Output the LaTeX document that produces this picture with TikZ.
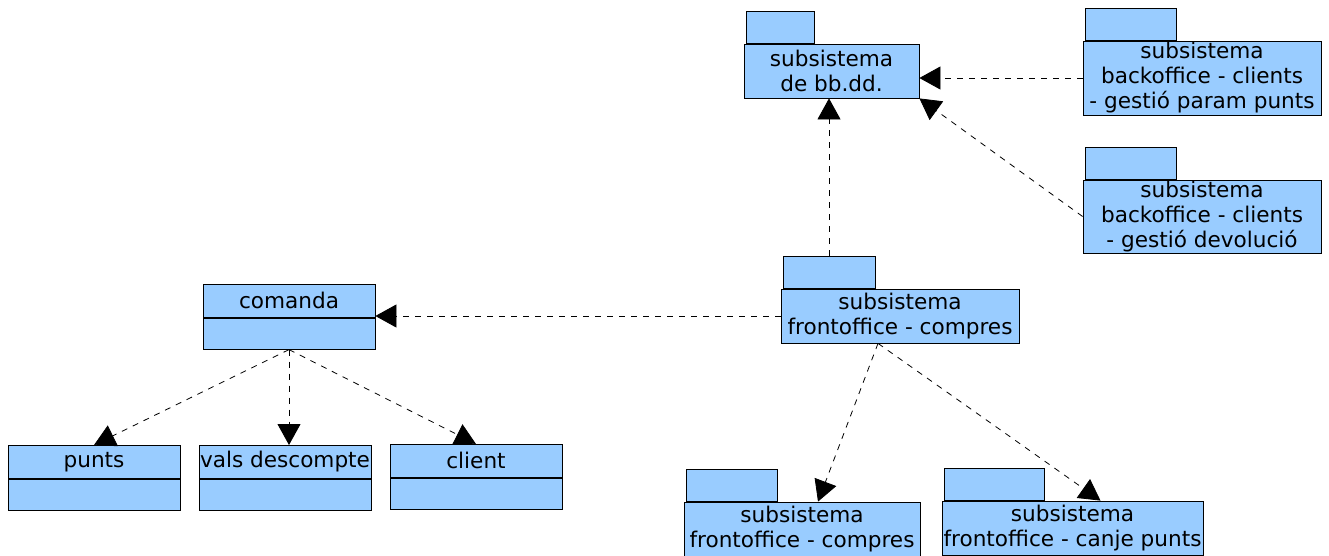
\documentclass[tikz,border=0pt]{standalone}
\usepackage{fontspec}
\setmainfont{DejaVu Sans}
\usetikzlibrary{arrows.meta}
\definecolor{pkgblue}{HTML}{99CCFF}

\begin{document}
\begin{tikzpicture}[x=1pt,y=-1pt,
    box/.style={draw, fill=pkgblue, line width=0.8pt, inner sep=0pt, align=center,
      font=\fontsize{21.6}{25}\selectfont},
    tab/.style={draw, fill=pkgblue, line width=0.8pt, inner sep=0pt, minimum height=32, anchor=south west},
    dep/.style={dash pattern=on 6pt off 6pt, line width=0.8pt, -{Triangle[length=21pt,width=23pt]}}]
  \useasboundingbox (0,0) rectangle (1329,555);

  % packages
  \node[box, minimum width=175, minimum height=54] (bbdd) at (831.5,71) {subsistema\\de bb.dd.};
  \node[box, minimum width=238, minimum height=74] (bo1) at (1202,78) {subsistema\\backoffice - clients\\- gesti\'o param punts};
  \node[box, minimum width=238, minimum height=73] (bo2) at (1202,216.5) {subsistema\\backoffice - clients\\- gesti\'o devoluci\'o};
  \node[box, minimum width=238, minimum height=54] (fo) at (900,316) {subsistema\\frontoffice - compres};
  \node[box, minimum width=236, minimum height=54] (fob1) at (802,529) {subsistema\\frontoffice - compres};
  \node[box, minimum width=261, minimum height=54] (fob2) at (1072.5,528) {subsistema\\frontoffice - canje punts};
  \foreach \n/\w in {bbdd/68, bo1/91, bo2/91, fo/92, fob1/91, fob2/100}
    \node[tab, minimum width=\w] (\n tab) at ([xshift=2]\n.north west) {};

  % classes
  \foreach \n/\t/\x/\y in {comanda/comanda/289/284, punts/punts/94/445,
      vals/vals descompte/285/445, client/client/476/444} {
    \node[box, minimum width=172, minimum height=33, anchor=north] (\n) at (\x,\y) {\t};
    \node[box, minimum width=172, minimum height=31, anchor=north] (\n-ops) at (\n.south) {};
  }

  % dependencies
  \draw[dep] (bo1.west) -- (bo1.west -| bbdd.east);
  \draw[dep] (bo2.west) -- (bbdd.south east);
  \draw[dep] (fotab.north) -- (fotab.north |- bbdd.south);
  \draw[dep] (fo.west) -- (fo.west -| comanda.south east);
  \draw[dep] ([xshift=-22]fo.south) -- ([xshift=16]fob1.north);
  \draw[dep] ([xshift=-22]fo.south) -- ([xshift=28]fob2.north);
  \draw[dep] (comanda-ops.south) -- (punts.north);
  \draw[dep] (comanda-ops.south) -- (comanda-ops.south |- vals.north);
  \draw[dep] (comanda-ops.south) -- (client.north);
\end{tikzpicture}
\end{document}
